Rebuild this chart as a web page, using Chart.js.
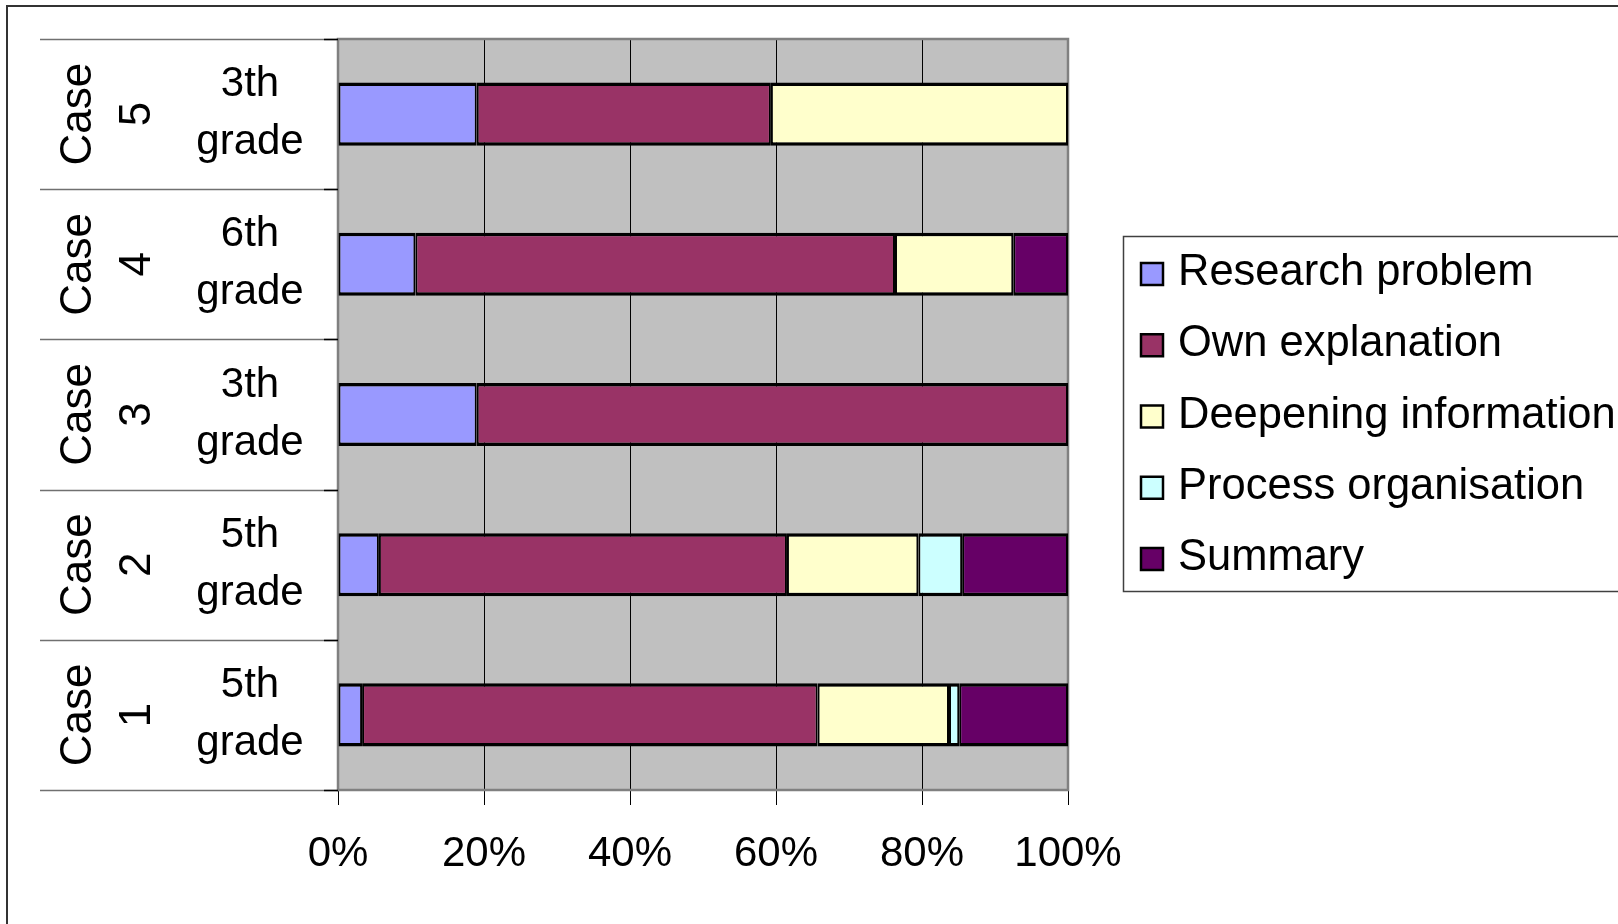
<!DOCTYPE html>
<html>
<head>
<meta charset="utf-8">
<title>Case comparison</title>
<script src="https://cdn.jsdelivr.net/npm/chart.js@4.4.1/dist/chart.umd.min.js"></script>
<style>
  html, body { margin: 0; padding: 0; background: #fff; }
  #wrap { width: 1618px; height: 924px; }
</style>
</head>
<body>
<div id="wrap"><canvas id="caseChart" width="1618" height="924"></canvas></div>
<script>
// categories, bottom to top
const cases = ["Case 1", "Case 2", "Case 3", "Case 4", "Case 5"];
const grades = ["5th grade", "5th grade", "3th grade", "6th grade", "3th grade"];
const xTicks = [0, 20, 40, 60, 80, 100];

// share of each phase per case, in %
const researchProblem = [3.3, 5.6, 19.0, 10.6, 19.0];
const ownExplanation = [62.4, 55.9, 81.0, 65.7, 40.3];
const deepeningInfo = [18.0, 18.0, 0, 16.2, 40.7];
const processOrg = [1.4, 6.0, 0, 0, 0];
const summary = [14.9, 14.5, 0, 7.5, 0];

const seriesNames = ["Research problem", "Own explanation", "Deepening information", "Process organisation", "Summary"];
const seriesColors = ["#9999FF", "#993366", "#FFFFCC", "#CCFFFF", "#660066"];
const seriesValues = [researchProblem, ownExplanation, deepeningInfo, processOrg, summary];

const FONT = "'Liberation Sans', Arial, sans-serif";

const frame = {
  id: "frame",

  beforeDraw(chart) {
    const { ctx, chartArea: a } = chart;
    ctx.save();
    ctx.fillStyle = "#C0C0C0";
    ctx.fillRect(a.left, a.top, a.right - a.left, a.bottom - a.top);
    ctx.restore();
  },

  beforeDatasetsDraw(chart) {
    const { ctx, chartArea: a } = chart;
    ctx.save();
    ctx.strokeStyle = "#808080";
    ctx.lineWidth = 2.5;
    ctx.strokeRect(a.left, a.top, a.right - a.left, a.bottom - a.top);
    ctx.restore();
  },

  afterDraw(chart) {
    const { ctx, chartArea: a } = chart;
    const ys = chart.scales.y;
    const band = (a.bottom - a.top) / cases.length;

    ctx.save();

    // category separators on the left
    for (let k = 0; k <= cases.length; k++) {
      const y = Math.round(a.top + k * band) + 0.5;
      ctx.strokeStyle = "#707070";
      ctx.lineWidth = 1.5;
      ctx.beginPath();
      ctx.moveTo(40, y);
      ctx.lineTo(a.left, y);
      ctx.stroke();
      ctx.strokeStyle = "#000";
      ctx.beginPath();
      ctx.moveTo(a.left - 14, y);
      ctx.lineTo(a.left, y);
      ctx.stroke();
    }

    // two-level category labels
    ctx.fillStyle = "#000";
    ctx.textAlign = "center";
    ctx.textBaseline = "alphabetic";
    cases.forEach((c, i) => {
      const cy = ys.getPixelForValue(i);
      const parts = c.split(" ");
      ctx.font = "44px " + FONT;
      ctx.save();
      ctx.translate(91, cy);
      ctx.rotate(-Math.PI / 2);
      ctx.fillText(parts[0], 0, 0);
      ctx.fillText(parts[1], 0, 59);
      ctx.restore();

      const g = grades[i].split(" ");
      ctx.font = "42px " + FONT;
      ctx.fillText(g[0], 250, cy - 18);
      ctx.fillText(g[1], 250, cy + 40);
    });

    // legend
    ctx.strokeStyle = "#404040";
    ctx.lineWidth = 1.5;
    ctx.strokeRect(1123.5, 236.5, 520, 355);
    ctx.textAlign = "left";
    ctx.textBaseline = "middle";
    ctx.font = "43.5px " + FONT;
    chart.data.datasets.forEach((ds, i) => {
      const cy = 273 + i * 71.25;
      ctx.fillStyle = ds.backgroundColor;
      ctx.fillRect(1141, cy - 10, 22, 22);
      ctx.strokeStyle = "#000";
      ctx.lineWidth = 2.5;
      ctx.strokeRect(1141, cy - 10, 22, 22);
      ctx.fillStyle = "#000";
      ctx.fillText(ds.label, 1178, cy);
    });

    // outer chart frame
    ctx.strokeStyle = "#333";
    ctx.lineWidth = 2;
    ctx.beginPath();
    ctx.moveTo(7, 930);
    ctx.lineTo(7, 6);
    ctx.lineTo(1625, 6);
    ctx.stroke();

    ctx.restore();
  }
};

new Chart(document.getElementById("caseChart"), {
  type: "bar",
  data: {
    labels: cases,
    datasets: seriesNames.map((name, i) => ({
      label: name,
      data: seriesValues[i],
      backgroundColor: seriesColors[i],
      borderColor: "#000",
      borderWidth: { top: 3.5, bottom: 3.5, left: 2, right: 2 },
      borderSkipped: false,
      barPercentage: 0.42,
      categoryPercentage: 1
    }))
  },
  options: {
    indexAxis: "y",
    responsive: false,
    animation: false,
    layout: { padding: { left: 338, right: 550, top: 39, bottom: 0 } },
    plugins: {
      legend: { display: false },
      tooltip: { enabled: false }
    },
    scales: {
      x: {
        stacked: true,
        min: 0,
        max: 100,
        afterBuildTicks: s => { s.ticks = xTicks.map(v => ({ value: v })); },
        afterFit: s => { s.height = 134; },
        ticks: {
          padding: 24,
          maxRotation: 0,
          color: "#000",
          font: { family: FONT, size: 42 },
          callback: v => v + "%"
        },
        grid: { color: "#000", lineWidth: 1, tickLength: 15 },
        border: { display: false }
      },
      y: {
        stacked: true,
        reverse: true,
        display: false,
        grid: { display: false }
      }
    }
  },
  plugins: [frame]
});
</script>
</body>
</html>
